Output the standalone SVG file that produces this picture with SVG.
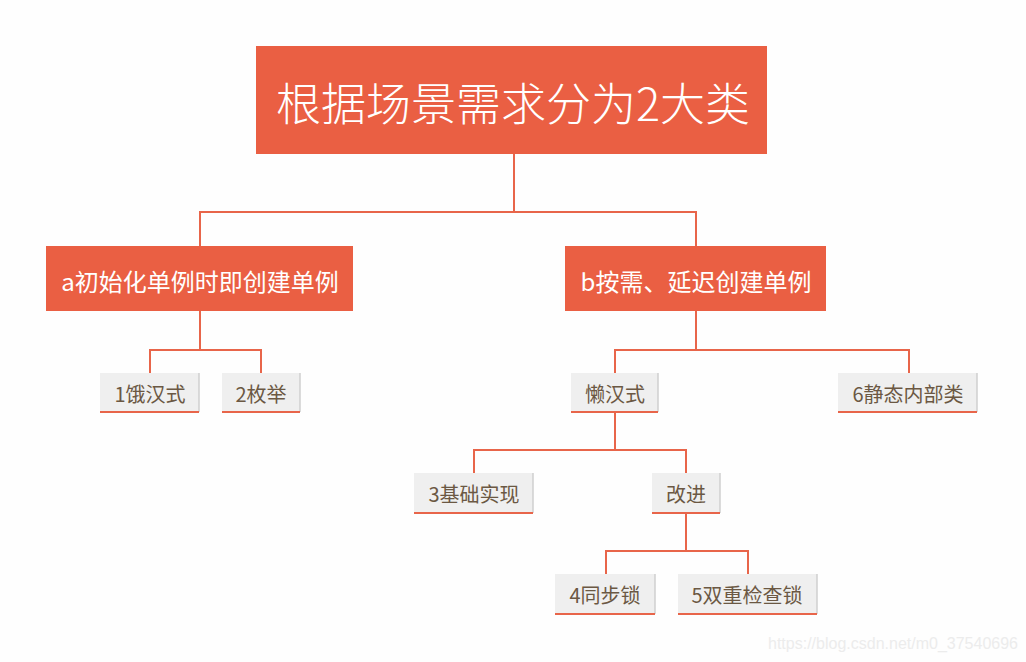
<svg xmlns="http://www.w3.org/2000/svg" width="1026" height="662" viewBox="0 0 1026 662">
<style>
.main{fill:#ea5f43}
.leaf{fill:#efefef}
.shade{stroke:#cfcfcf;stroke-width:1.5}
.ul{stroke:#e8654a;stroke-width:2}
.conn{fill:none;stroke:#e8654a;stroke-width:2}
text{font-family:"Noto Sans CJK SC","Noto Sans",sans-serif;text-anchor:middle;dominant-baseline:central}
.tw{fill:#ffffff}
.tb{fill:#6b5843;font-size:20px}
</style>
<rect width="1026" height="662" fill="#fefefe"/>
<g id="connectors">
<path class="conn" d="M514 154V212M200 246V212H696V246"/>
<path class="conn" d="M200 311V350M150 373V350H261V373"/>
<path class="conn" d="M696 311V350M615 373V350H909V373"/>
<path class="conn" d="M615 412V450M474 473V450H686V473"/>
<path class="conn" d="M686 513V551M606 574V551H748V574"/>
</g>
<g id="root">
<rect class="main" x="256" y="46" width="511" height="108"/>
<text class="tw" x="513" y="101" font-size="45" font-weight="300">根据场景需求分为2大类</text>
</g>
<g id="a">
<rect class="main" x="46" y="246" width="307" height="65"/>
<text class="tw" x="200" y="280" font-size="24">a初始化单例时即创建单例</text>
</g>
<g id="b">
<rect class="main" x="565" y="246" width="261" height="65"/>
<text class="tw" x="696" y="280" font-size="24">b按需、延迟创建单例</text>
</g>
<g id="n1">
<rect class="leaf" x="100" y="373" width="99" height="39"/>
<line class="shade" x1="199" y1="373" x2="199" y2="412"/>
<line class="ul" x1="100" y1="412" x2="199" y2="412"/>
<text class="tb" x="150" y="393">1饿汉式</text>
</g>
<g id="n2">
<rect class="leaf" x="222" y="373" width="78" height="39"/>
<line class="shade" x1="300" y1="373" x2="300" y2="412"/>
<line class="ul" x1="222" y1="412" x2="300" y2="412"/>
<text class="tb" x="261" y="393">2枚举</text>
</g>
<g id="lazy">
<rect class="leaf" x="571" y="373" width="87" height="39"/>
<line class="shade" x1="658" y1="373" x2="658" y2="412"/>
<line class="ul" x1="571" y1="412" x2="658" y2="412"/>
<text class="tb" x="615" y="393">懒汉式</text>
</g>
<g id="n6">
<rect class="leaf" x="838" y="373" width="139" height="39"/>
<line class="shade" x1="977" y1="373" x2="977" y2="412"/>
<line class="ul" x1="838" y1="412" x2="977" y2="412"/>
<text class="tb" x="908" y="393">6静态内部类</text>
</g>
<g id="n3">
<rect class="leaf" x="414" y="473" width="119" height="40"/>
<line class="shade" x1="533" y1="473" x2="533" y2="513"/>
<line class="ul" x1="414" y1="513" x2="533" y2="513"/>
<text class="tb" x="474" y="493">3基础实现</text>
</g>
<g id="improve">
<rect class="leaf" x="652" y="473" width="68" height="40"/>
<line class="shade" x1="720" y1="473" x2="720" y2="513"/>
<line class="ul" x1="652" y1="513" x2="720" y2="513"/>
<text class="tb" x="686" y="493">改进</text>
</g>
<g id="n4">
<rect class="leaf" x="555" y="574" width="100" height="40"/>
<line class="shade" x1="655" y1="574" x2="655" y2="614"/>
<line class="ul" x1="555" y1="614" x2="655" y2="614"/>
<text class="tb" x="605" y="594">4同步锁</text>
</g>
<g id="n5">
<rect class="leaf" x="678" y="574" width="139" height="40"/>
<line class="shade" x1="817" y1="574" x2="817" y2="614"/>
<line class="ul" x1="678" y1="614" x2="817" y2="614"/>
<text class="tb" x="747" y="594">5双重检查锁</text>
</g>
<text x="893" y="643" font-size="16" fill="#ececec" style="font-family:'Liberation Sans',sans-serif">https://blog.csdn.net/m0_37540696</text>
</svg>
